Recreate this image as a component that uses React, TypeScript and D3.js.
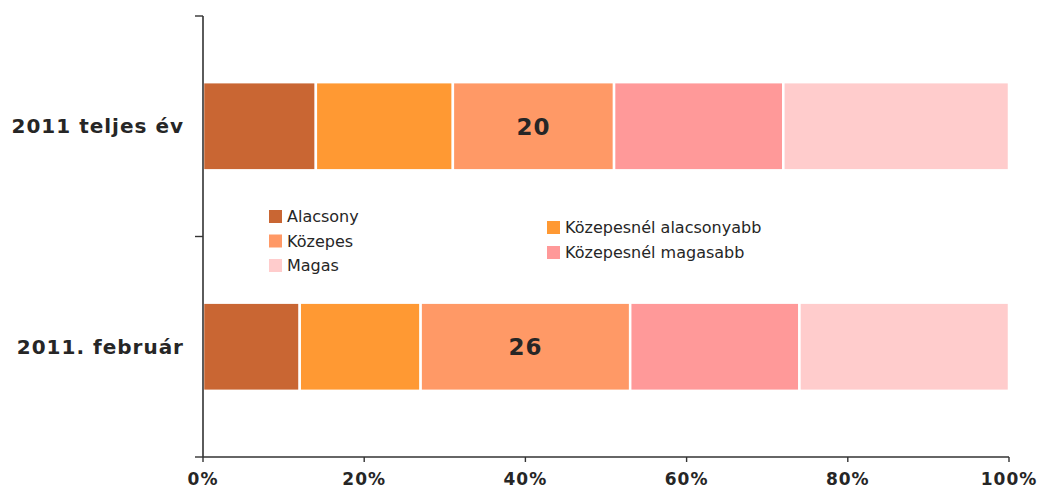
import React from "react";
import * as d3 from "d3";

const categories = ["2011 teljes év", "2011. február"];
const seriesNames = ["Alacsony", "Közepesnél alacsonyabb", "Közepes", "Közepesnél magasabb", "Magas"];
const seriesColors = ["#C96633", "#FF9933", "#FF9966", "#FF9999", "#FFCCCC"];
const values = [
  [14, 17, 20, 21, 28],
  [12, 15, 26, 21, 26],
];
const labelSeries = 2;
const xTicks = [0, 20, 40, 60, 80, 100];
const legendLeft = ["Alacsony", "Közepes", "Magas"];
const legendRight = ["Közepesnél alacsonyabb", "Közepesnél magasabb"];

export default function App() {
  const W = 1040, H = 488;
  const x0 = 203, x1 = 1009, yTop = 16, yBot = 457;
  const x = d3.scaleLinear().domain([0, 100]).range([x0, x1]);
  const y = d3.scaleBand().domain(categories).range([yTop, yBot]).paddingInner(0.6).paddingOuter(0.3);
  const data = categories.map((c, i) => {
    const o: any = { cat: c };
    seriesNames.forEach((s, j) => (o[s] = values[i][j]));
    return o;
  });
  const stacked = d3.stack().keys(seriesNames)(data);
  const font = "'DejaVu Sans', sans-serif";
  const txt = "#262626";
  const colorOf = (s: string) => seriesColors[seriesNames.indexOf(s)];
  const bandTicks = [yTop, (yTop + yBot) / 2, yBot];

  return (
    <svg width={W} height={H} style={{ position: "absolute", left: 0, top: 0 }} fontFamily={font}>
      <rect width={W} height={H} fill="#fff" />
      {stacked.map((layer, j) => (
        <g key={j} fill={seriesColors[j]}>
          {layer.map((d, i) => (
            <rect
              key={i}
              x={x(d[0])}
              y={y(categories[i])}
              width={x(d[1]) - x(d[0])}
              height={y.bandwidth()}
              stroke="#fff"
              strokeWidth={2.5}
            />
          ))}
        </g>
      ))}
      {stacked[labelSeries].map((d, i) => (
        <text
          key={i}
          x={(x(d[0]) + x(d[1])) / 2}
          y={(y(categories[i]) as number) + y.bandwidth() / 2}
          dy="0.36em"
          textAnchor="middle"
          fontWeight="bold"
          fontSize={23}
          letterSpacing={1}
          fill={txt}
        >
          {values[i][labelSeries]}
        </text>
      ))}
      {/* y axis */}
      <line x1={x0} x2={x0} y1={yTop} y2={yBot} stroke="#333" strokeWidth={1.6} />
      {bandTicks.map((t, i) => (
        <line key={i} x1={x0 - 8} x2={x0} y1={t} y2={t} stroke="#333" strokeWidth={1.4} />
      ))}
      {categories.map((c) => (
        <text
          key={c}
          x={184}
          y={(y(c) as number) + y.bandwidth() / 2}
          dy="0.36em"
          textAnchor="end"
          fontWeight="bold"
          fontSize={20}
          letterSpacing={1}
          fill={txt}
        >
          {c}
        </text>
      ))}
      {/* x axis */}
      <line x1={x0} x2={x1} y1={yBot} y2={yBot} stroke="#333" strokeWidth={1.6} />
      {xTicks.map((t) => (
        <g key={t}>
          <line x1={x(t)} x2={x(t)} y1={yBot} y2={yBot + 5} stroke="#333" strokeWidth={1.4} />
          <text x={x(t)} y={485} textAnchor="middle" fontWeight="bold" fontSize={17} letterSpacing={1} fill={txt}>
            {t}%
          </text>
        </g>
      ))}
      {/* legend */}
      {legendLeft.map((s, i) => (
        <g key={s} transform={`translate(269,${210 + i * 24.5})`}>
          <rect width={13} height={13} fill={colorOf(s)} />
          <text x={18} y={6.5} dy="0.36em" fontSize={16} fill={txt}>
            {s}
          </text>
        </g>
      ))}
      {legendRight.map((s, i) => (
        <g key={s} transform={`translate(547,${221 + i * 25})`}>
          <rect width={13} height={13} fill={colorOf(s)} />
          <text x={18} y={6.5} dy="0.36em" fontSize={16} fill={txt}>
            {s}
          </text>
        </g>
      ))}
    </svg>
  );
}
